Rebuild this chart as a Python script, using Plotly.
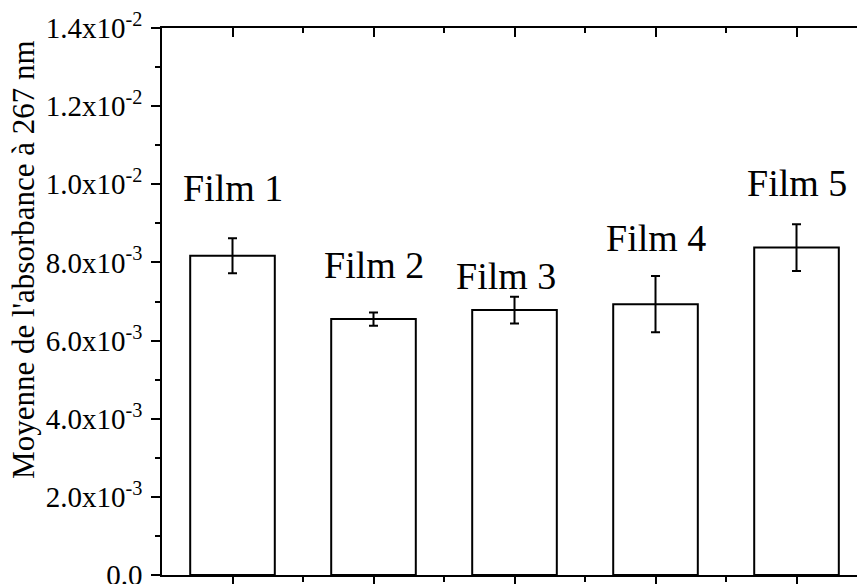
import plotly.graph_objects as go

# ---- data ----
categories = ["Film 1", "Film 2", "Film 3", "Film 4", "Film 5"]
x_pos = [1, 2, 3, 4, 5]
means = [0.00817, 0.00655, 0.00678, 0.00693, 0.00838]
errors = [0.00045, 0.00017, 0.00034, 0.00072, 0.00060]

y_tickvals = [0, 0.002, 0.004, 0.006, 0.008, 0.010, 0.012, 0.014]
y_ticktext = ["0.0", "2.0x10<sup>-3</sup>", "4.0x10<sup>-3</sup>", "6.0x10<sup>-3</sup>",
              "8.0x10<sup>-3</sup>", "1.0x10<sup>-2</sup>", "1.2x10<sup>-2</sup>",
              "1.4x10<sup>-2</sup>"]
y_title = "Moyenne de l'absorbance à 267 nm"

# label anchor positions (data coords)
label_x = [1, 2, 2.94, 4, 5]
label_y = [0.00990, 0.00793, 0.00765, 0.00862, 0.01003]

serif = "Liberation Serif"

fig = go.Figure()
fig.add_trace(go.Bar(
    x=x_pos, y=means, width=0.6,
    marker=dict(color="white", line=dict(color="black", width=2)),
    error_y=dict(type="data", array=errors, color="black", thickness=2, width=4.5),
    showlegend=False, xaxis="x", yaxis="y",
))
# invisible trace to activate top axis
fig.add_trace(go.Scatter(x=x_pos, y=means, mode="markers", marker=dict(opacity=0),
                         showlegend=False, hoverinfo="skip", xaxis="x2", yaxis="y"))

xr = [0.5, 5.429]
minor_x = [1.5, 2.5, 3.5, 4.5]
fig.update_layout(
    width=857, height=584,
    margin=dict(l=162, r=0, t=28, b=9),
    paper_bgcolor="white", plot_bgcolor="white",
    xaxis=dict(range=xr, tickmode="array", tickvals=x_pos, showticklabels=False,
               ticks="outside", ticklen=10, tickwidth=1.5, tickcolor="black",
               showline=True, linecolor="black", linewidth=1.5, automargin=False,
               showgrid=False, zeroline=False,
               minor=dict(tickmode="array", tickvals=minor_x,
                          ticks="outside", ticklen=5, tickwidth=1.5, tickcolor="black")),
    xaxis2=dict(range=xr, overlaying="x", side="top", tickmode="array", tickvals=x_pos,
                showticklabels=False, ticks="inside", ticklen=9, tickwidth=1.5,
                tickcolor="black", showline=True, linecolor="black", linewidth=1.5,
                showgrid=False, zeroline=False, automargin=False,
                minor=dict(tickmode="array", tickvals=minor_x,
                           ticks="inside", ticklen=5, tickwidth=1.5, tickcolor="black")),
    yaxis=dict(range=[0, 0.014], tickmode="array", tickvals=y_tickvals, ticktext=y_ticktext,
               ticks="outside", ticklen=9, tickwidth=1.5, tickcolor="black",
               showline=True, linecolor="black", linewidth=1.5, automargin=False,
               showgrid=False, zeroline=False, ticklabeloverflow="allow",
               ticklabelstandoff=3,
               tickfont=dict(family=serif, size=29, color="black"),
               minor=dict(tickmode="array", tickvals=[0.001, 0.003, 0.005, 0.007, 0.009, 0.011, 0.013],
                          ticks="outside", ticklen=5, tickwidth=1.5, tickcolor="black")),
)

for name, lx, ly in zip(categories, label_x, label_y):
    fig.add_annotation(x=lx, y=ly, xref="x", yref="y", text=name, showarrow=False,
                       xanchor="center", yanchor="middle",
                       font=dict(family=serif, size=38, color="black"))

fig.add_annotation(x=-138 / 695, y=0.576, xref="paper", yref="paper", text=y_title,
                   showarrow=False, textangle=-90, xanchor="center", yanchor="middle",
                   font=dict(family=serif, size=31, color="black"))

fig.write_html("out.html", config={"displayModeBar": False},
               post_script="document.body.style.margin='0';")
